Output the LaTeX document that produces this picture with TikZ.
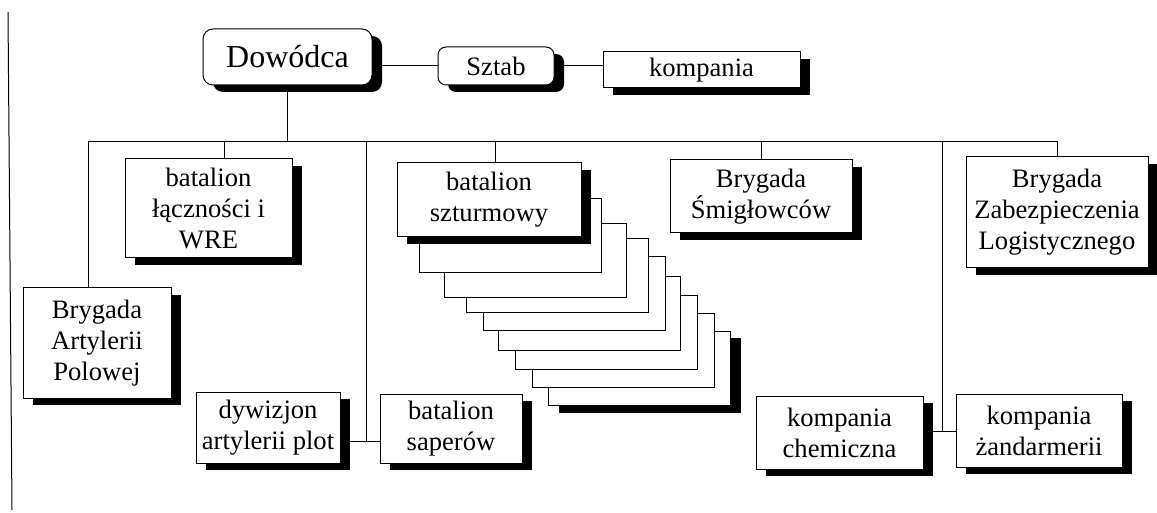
\documentclass[tikz,border=0pt]{standalone}
\usepackage{fontspec}
\setmainfont{Liberation Serif}
\usepackage{tikz}
\usetikzlibrary{shadows}

\begin{document}
\begin{tikzpicture}[x=0.5pt, y=-0.5pt, line width=0.5pt,
  shade/.style={drop shadow={shadow xshift=5pt, shadow yshift=-3.5pt, fill=black, opacity=1}},
  unit/.style={draw, fill=white, align=center, inner sep=0pt, shade,
    font=\fontsize{13.3}{15.5}\selectfont},
  head/.style={unit, rounded corners=4pt},
  blank/.style={draw, fill=white, inner sep=0pt, anchor=north west,
    minimum width=91pt, minimum height=37pt}]
\useasboundingbox (0,0) rectangle (1157,513);
\draw (8,12) -- (12,510); % edge of the sheet

% command
\node[head, rounded corners=5pt, font=\fontsize{16}{18}\selectfont,
  minimum width=84.5pt, minimum height=28pt] (Dow) at (287.5,57) {Dowódca};
\node[head, minimum width=58pt, minimum height=19pt] (Sztab) at (496,66) {Sztab};
\node[unit, minimum width=98.5pt, minimum height=18pt] (Komp) at (701.5,70) {kompania};

\draw (Dow.east |- Sztab.west) -- (Sztab.west);
\draw (Sztab.east) -- (Sztab.east -| Komp.west);

% assault battalions stacked
\node[blank, shade] (s8) at (548,331) {};
\foreach \x/\y/\n in {532/313/7, 515/295/6, 498/276/5, 483/256/4, 466/238/3, 444/223/2, 419/198/1}
  \node[blank] (s\n) at (\x,\y) {};

% units
\node[unit, minimum width=83.5pt, minimum height=49.5pt] (Lacz) at (208.5,208.5) {batalion\\łączności i\\WRE};
\node[unit, minimum width=74pt, minimum height=55pt] (Art) at (97,343) {Brygada\\Artylerii\\Polowej};
\node[unit, minimum width=72pt, minimum height=35.5pt] (Plot) at (268,427.5) {dywizjon\\artylerii plot};
\node[unit, minimum width=71pt, minimum height=34.5pt] (Sap) at (451,428.5) {batalion\\saperów};
\node[unit, minimum width=92pt, minimum height=37pt] (Szt) at (489,200) {batalion\\szturmowy};
\node[unit, minimum width=91pt, minimum height=36.5pt] (Smig) at (761,196.5) {Brygada\\Śmigłowców};
\node[unit, minimum width=91pt, minimum height=55.5pt] (Zab) at (1057,212.5) {Brygada\\Zabezpieczenia\\Logistycznego};
\node[unit, minimum width=83.5pt, minimum height=36.5pt] (Chem) at (839.5,432.5) {kompania\\chemiczna};
\node[unit, minimum width=83pt, minimum height=36.5pt] (Zand) at (1039,430.5) {kompania\\żandarmerii};

% bus
\coordinate (bus) at (0,142);
\coordinate (j1) at (366,441);
\coordinate (j2) at (942,431);
\draw (Dow.south) -- (Dow.south |- bus);
\draw ([xshift=-4.5pt]Art.north) -- ([xshift=-4.5pt]Art.north |- bus) -- (Zab.north |- bus) -- (Zab.north);
\draw ([xshift=8pt]Lacz.north) -- ([xshift=8pt]Lacz.north |- bus);
\draw ([xshift=3pt]Szt.north) -- ([xshift=3pt]Szt.north |- bus);
\draw (Smig.north) -- (Smig.north |- bus);
\draw (j1 |- bus) -- (j1);
\draw (Plot.east |- j1) -- (Sap.west |- j1);
\draw (j2 |- bus) -- (j2);
\draw (Chem.east |- j2) -- (Zand.west |- j2);
\end{tikzpicture}
\end{document}
